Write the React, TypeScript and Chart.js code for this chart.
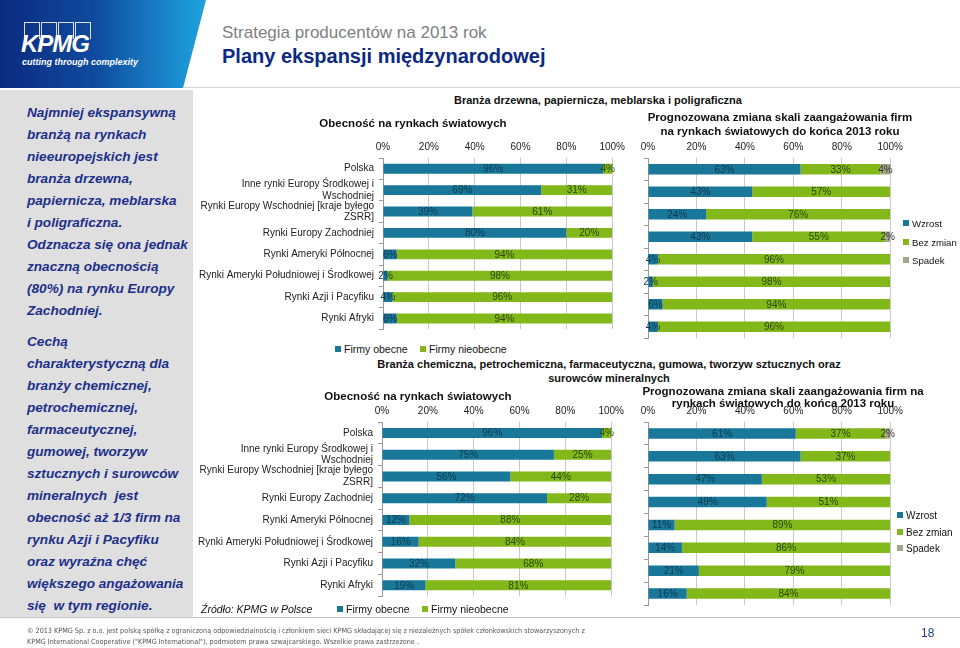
import React, { useEffect, useRef } from 'react';
import { Chart, registerables } from 'chart.js';

Chart.register(...registerables);

const FONT = "'Liberation Sans', Arial, Helvetica, sans-serif";

// ---- data ----
const categories: (string | string[])[] = [
  'Polska',
  ['Inne rynki Europy Środkowej i', 'Wschodniej'],
  ['Rynki Europy Wschodniej [kraje byłego', 'ZSRR]'],
  'Rynki Europy Zachodniej',
  'Rynki Ameryki Północnej',
  'Rynki Ameryki Południowej i Środkowej',
  'Rynki Azji i Pacyfiku',
  'Rynki Afryki',
];
const percentTicks = ['0%', '20%', '40%', '60%', '80%', '100%'];
const presenceSeries = ['Firmy obecne', 'Firmy nieobecne'];
const changeSeries = ['Wzrost', 'Bez zmian', 'Spadek'];

const woodPresent = [96, 69, 39, 80, 6, 2, 4, 6];
const woodAbsent = [4, 31, 61, 20, 94, 98, 96, 94];
const woodGrowth = [63, 43, 24, 43, 4, 2, 6, 4];
const woodNoChange = [33, 57, 76, 55, 96, 98, 94, 96];
const woodDecline = [4, 0, 0, 2, 0, 0, 0, 0];

const chemPresent = [96, 75, 56, 72, 12, 16, 32, 19];
const chemAbsent = [4, 25, 44, 28, 88, 84, 68, 81];
const chemGrowth = [61, 63, 47, 49, 11, 14, 21, 16];
const chemNoChange = [37, 37, 53, 51, 89, 86, 79, 84];
const chemDecline = [2, 0, 0, 0, 0, 0, 0, 0];

const COLORS = ['#19779a', '#83b81a', '#a7a58e'];
const LABEL_COLORS = ['#0f3a4c', '#2a4706', '#333333'];

const valueLabelPlugin = {
  id: 'valueLabels',
  afterDatasetsDraw(chart: any) {
    const ctx = chart.ctx;
    ctx.save();
    ctx.font = `10px ${FONT}`;
    ctx.textAlign = 'center';
    ctx.textBaseline = 'middle';
    chart.data.datasets.forEach((ds: any, di: number) => {
      const meta = chart.getDatasetMeta(di);
      meta.data.forEach((el: any, i: number) => {
        const v = ds.data[i];
        if (!v) return;
        const p = el.getProps(['x', 'y', 'base'], true);
        ctx.fillStyle = LABEL_COLORS[di];
        ctx.fillText(v + '%', (p.x + p.base) / 2, p.y + 0.5);
      });
    });
    ctx.restore();
  },
};

type BarProps = {
  left: number;
  top: number;
  width: number;
  height: number;
  yAxisWidth: number;
  xAxisHeight: number;
  showCategories: boolean;
  series: string[];
  values: number[][];
};

function StackedBar(props: BarProps) {
  const ref = useRef<HTMLCanvasElement>(null);
  useEffect(() => {
    const { yAxisWidth, xAxisHeight, showCategories, series, values } = props;
    const chart = new Chart(ref.current as HTMLCanvasElement, {
      type: 'bar',
      data: {
        labels: categories as any,
        datasets: series.map((name, i) => ({
          label: name,
          data: values[i],
          backgroundColor: COLORS[i],
          borderWidth: 0,
          barPercentage: 0.46,
          categoryPercentage: 1,
        })),
      },
      options: {
        indexAxis: 'y',
        animation: false,
        responsive: false,
        maintainAspectRatio: false,
        layout: { padding: { left: 0, right: 16, top: 0, bottom: 2 } },
        plugins: { legend: { display: false }, tooltip: { enabled: false }, title: { display: false } },
        scales: {
          x: {
            position: 'top',
            stacked: true,
            min: 0,
            max: 100,
            ticks: {
              stepSize: 20,
              padding: 5,
              color: '#222',
              font: { family: FONT, size: 10 },
              callback: (_v: any, i: number) => percentTicks[i],
            },
            grid: { color: '#c9c9c9', drawTicks: false, lineWidth: 1 },
            border: { display: false },
            afterFit: (s: any) => {
              s.height = xAxisHeight;
            },
          },
          y: {
            stacked: true,
            ticks: {
              display: showCategories,
              autoSkip: false,
              padding: 5,
              color: '#222',
              font: { family: FONT, size: 10, lineHeight: 1.15 },
            },
            grid: { drawOnChartArea: false, offset: true, tickLength: 4, color: '#9a9a9a' },
            border: { color: '#9a9a9a' },
            afterFit: (s: any) => {
              s.width = yAxisWidth;
            },
          },
        },
      } as any,
      plugins: [valueLabelPlugin],
    });
    return () => chart.destroy();
  }, []);
  return (
    <canvas
      ref={ref}
      width={props.width}
      height={props.height}
      style={{ position: 'absolute', left: props.left, top: props.top, width: props.width, height: props.height }}
    />
  );
}

const abs = (left: number, top: number, extra: React.CSSProperties = {}): React.CSSProperties => ({
  position: 'absolute',
  left,
  top,
  whiteSpace: 'nowrap',
  ...extra,
});

function Centered({ cx, cy, text, size, bold, lh }: { cx: number; cy: number; text: string[]; size: number; bold?: boolean; lh: number }) {
  return (
    <div
      style={{
        position: 'absolute',
        left: cx - 300,
        width: 600,
        top: cy - lh / 2,
        textAlign: 'center',
        fontSize: size,
        lineHeight: lh + 'px',
        fontWeight: bold ? 'bold' : 'normal',
        color: '#111',
        whiteSpace: 'nowrap',
      }}
    >
      {text.map((t, i) => (
        <div key={i}>{t}</div>
      ))}
    </div>
  );
}

function LegendItem({ x, y, color, label, size }: { x: number; y: number; color: string; label: string; size: number }) {
  return (
    <div style={abs(x, y - 7, { height: 14, display: 'flex', alignItems: 'center', fontSize: size, color: '#111' })}>
      <span style={{ display: 'inline-block', width: 6, height: 6, background: color, marginRight: 3 }} />
      {label}
    </div>
  );
}

const para1 = [
  'Najmniej ekspansywną',
  'branżą na rynkach',
  'nieeuropejskich jest',
  'branża drzewna,',
  'papiernicza, meblarska',
  'i poligraficzna.',
  'Odznacza się ona jednak',
  'znaczną obecnością',
  '(80%) na rynku Europy',
  'Zachodniej.',
];
const para2 = [
  'Cechą',
  'charakterystyczną dla',
  'branży chemicznej,',
  'petrochemicznej,',
  'farmaceutycznej,',
  'gumowej, tworzyw',
  'sztucznych i surowców',
  'mineralnych  jest',
  'obecność aż 1/3 firm na',
  'rynku Azji i Pacyfiku',
  'oraz wyraźna chęć',
  'większego angażowania',
  'się  w tym regionie.',
];

export default function App() {
  const sideText: React.CSSProperties = {
    position: 'absolute',
    left: 27,
    fontSize: 13.6,
    lineHeight: '22px',
    fontWeight: 'bold',
    fontStyle: 'italic',
    color: '#1c2f8a',
    whiteSpace: 'pre',
  };
  return (
    <div
      style={{
        position: 'fixed',
        left: 0,
        top: 0,
        width: 960,
        height: 648,
        overflow: 'hidden',
        background: '#ffffff',
        fontFamily: FONT,
      }}
    >
      {/* header */}
      <div
        style={{
          position: 'absolute',
          left: 0,
          top: 0,
          width: 210,
          height: 88,
          background: 'linear-gradient(90deg, #0b2b80 0%, #0f4a9e 45%, #1a8fd0 85%, #20a4de 100%)',
          clipPath: 'polygon(0 0, 206px 0, 183px 88px, 0 88px)',
        }}
      />
      <div style={abs(24, 22, { display: 'flex' })}>
        {[0, 1, 2, 3].map((i) => (
          <div key={i} style={{ width: 14, height: 16, border: '1px solid rgba(255,255,255,0.85)', borderBottom: 'none', marginRight: i < 3 ? 1 : 0 }} />
        ))}
      </div>
      <div style={abs(21, 32, { fontSize: 24, fontWeight: 'bold', fontStyle: 'italic', color: '#fff', letterSpacing: -1, lineHeight: '24px' })}>KPMG</div>
      <div style={abs(22, 56, { fontSize: 9, fontWeight: 'bold', fontStyle: 'italic', color: '#fff', lineHeight: '12px' })}>cutting through complexity</div>
      <div style={abs(222, 23, { fontSize: 17, color: '#808080', lineHeight: '20px' })}>Strategia producentów na 2013 rok</div>
      <div style={abs(222, 44, { fontSize: 20, fontWeight: 'bold', color: '#0c2a84', lineHeight: '24px' })}>Plany ekspansji międzynarodowej</div>
      <div style={{ position: 'absolute', left: 183, top: 87, width: 777, height: 1, background: '#d6d6d6' }} />

      {/* left panel */}
      <div style={{ position: 'absolute', left: 0, top: 90, width: 193, height: 527, background: '#dfdfdf' }} />
      <div style={{ ...sideText, top: 102 }}>
        {para1.map((l, i) => (
          <div key={i}>{l}</div>
        ))}
      </div>
      <div style={{ ...sideText, top: 331 }}>
        {para2.map((l, i) => (
          <div key={i}>{l}</div>
        ))}
      </div>

      {/* charts */}
      <StackedBar left={195} top={128} width={435} height={212} yAxisWidth={188} xAxisHeight={30} showCategories series={presenceSeries} values={[woodPresent, woodAbsent]} />
      <StackedBar left={630} top={128} width={278} height={212} yAxisWidth={18} xAxisHeight={30} showCategories={false} series={changeSeries} values={[woodGrowth, woodNoChange, woodDecline]} />
      <StackedBar left={195} top={392} width={434} height={215} yAxisWidth={187} xAxisHeight={30} showCategories series={presenceSeries} values={[chemPresent, chemAbsent]} />
      <StackedBar left={630} top={392} width={278} height={215} yAxisWidth={18} xAxisHeight={30} showCategories={false} series={changeSeries} values={[chemGrowth, chemNoChange, chemDecline]} />

      {/* titles */}
      <Centered cx={598} cy={100} text={['Branża drzewna, papiernicza, meblarska i poligraficzna']} size={11} bold lh={13} />
      <Centered cx={413} cy={123} text={['Obecność na rynkach światowych']} size={11.5} bold lh={13} />
      <Centered cx={780} cy={118} text={['Prognozowana zmiana skali zaangażowania firm', 'na rynkach światowych do końca 2013 roku']} size={11.5} bold lh={13.5} />
      <Centered cx={609} cy={365} text={['Branża chemiczna, petrochemiczna, farmaceutyczna, gumowa, tworzyw sztucznych oraz', 'surowców mineralnych']} size={11} bold lh={13.5} />
      <Centered cx={418} cy={396} text={['Obecność na rynkach światowych']} size={11.5} bold lh={13} />
      <Centered cx={783} cy={391} text={['Prognozowana zmiana skali zaangażowania firm na', 'rynkach światowych do końca 2013 roku']} size={11.5} bold lh={12.5} />

      {/* legends */}
      <LegendItem x={335} y={349} color={COLORS[0]} label={presenceSeries[0]} size={10.5} />
      <LegendItem x={420} y={349} color={COLORS[1]} label={presenceSeries[1]} size={10.5} />
      <LegendItem x={337} y={609} color={COLORS[0]} label={presenceSeries[0]} size={10.5} />
      <LegendItem x={422} y={609} color={COLORS[1]} label={presenceSeries[1]} size={10.5} />
      <LegendItem x={903} y={223} color={COLORS[0]} label={changeSeries[0]} size={9.6} />
      <LegendItem x={903} y={242} color={COLORS[1]} label={changeSeries[1]} size={9.6} />
      <LegendItem x={903} y={260} color={COLORS[2]} label={changeSeries[2]} size={9.6} />
      <LegendItem x={897} y={515} color={COLORS[0]} label={changeSeries[0]} size={10} />
      <LegendItem x={897} y={532} color={COLORS[1]} label={changeSeries[1]} size={10} />
      <LegendItem x={897} y={548} color={COLORS[2]} label={changeSeries[2]} size={10} />
      <div style={abs(201, 602, { fontSize: 10.5, fontStyle: 'italic', color: '#111', lineHeight: '14px' })}>Źródło: KPMG w Polsce</div>

      {/* footer */}
      <div style={{ position: 'absolute', left: 0, top: 617, width: 960, height: 1, background: '#c4c4c4' }} />
      <div
        style={abs(27, 625, {
          fontSize: 7.2,
          lineHeight: '11px',
          color: '#555',
          fontFamily: "'Liberation Sans Narrow', 'DejaVu Sans Condensed', Arial, sans-serif",
        })}
      >
        <div>© 2013 KPMG Sp. z o.o. jest polską spółką z ograniczoną odpowiedzialnością i członkiem sieci KPMG składającej się z niezależnych spółek członkowskich stowarzyszonych z</div>
        <div>KPMG International Cooperative ("KPMG International"), podmiotem prawa szwajcarskiego. Wszelkie prawa zastrzeżone .</div>
      </div>
      <div style={abs(921, 626, { fontSize: 12, color: '#1d3c8c', lineHeight: '14px' })}>18</div>
    </div>
  );
}
